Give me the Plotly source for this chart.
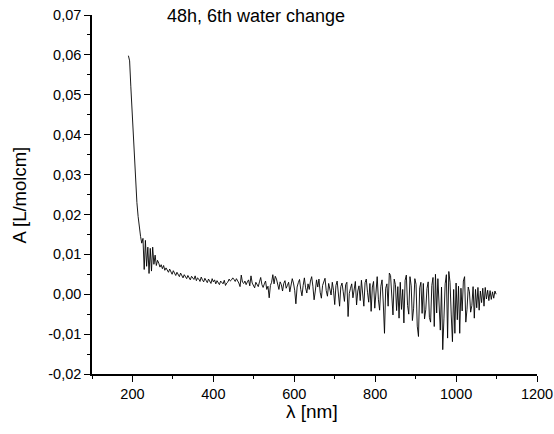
import plotly.graph_objects as go

# wavelength grid (nm), 3 nm sampling from 190 to 1099
wavelength = list(range(190, 1100, 3))

# absorbance A [L/molcm]
absorbance = [
    # 190-223 steep decay
    0.0598, 0.0585, 0.0520, 0.0455, 0.0400, 0.0335, 0.0275, 0.0230, 0.0195, 0.0165, 0.0145, 0.0128,
    # 226-262 noisy shoulder
    0.0140, 0.0062, 0.0135, 0.0070, 0.0118, 0.0052, 0.0115, 0.0058, 0.0118, 0.0075, 0.0098, 0.0072, 0.0085,
    # 265-418 slow decay
    0.0078, 0.0068, 0.0074, 0.0064, 0.0072, 0.0060, 0.0066, 0.0061, 0.0055, 0.0063,
    0.0058, 0.0050, 0.0059, 0.0053, 0.0047, 0.0055, 0.0049, 0.0044, 0.0053, 0.0046,
    0.0041, 0.0049, 0.0044, 0.0039, 0.0047, 0.0043, 0.0036, 0.0045, 0.0040, 0.0037,
    0.0046, 0.0034, 0.0041, 0.0038, 0.0032, 0.0043, 0.0036, 0.0031, 0.0040, 0.0035,
    0.0029, 0.0038, 0.0033, 0.0027, 0.0039, 0.0031, 0.0036, 0.0026, 0.0034, 0.0030,
    0.0024, 0.0033,
    # 421-1099 noisy tail
    0.0030, 0.0026, 0.0035, 0.0022, 0.0028, 0.0031, 0.0038, 0.0033, 0.0036, 0.0041,
    0.0037, 0.0032, 0.0039, 0.0035, 0.0028, 0.0019, 0.0048, 0.0030, 0.0027, 0.0033,
    0.0024, 0.0031, 0.0036, 0.0021, 0.0046, 0.0028, 0.0022, 0.0016, 0.0030, 0.0025,
    0.0019, 0.0031, 0.0042, 0.0024, 0.0017, 0.0026, 0.0033, 0.0012, 0.0020, -0.0009,
    0.0022, 0.0030, 0.0049, 0.0026, 0.0045, 0.0038, 0.0021, 0.0012, 0.0031, 0.0024,
    0.0008, 0.0027, 0.0034, 0.0015, 0.0022, 0.0030, 0.0006, 0.0019, 0.0039, 0.0028,
    0.0010, -0.0024, 0.0018, 0.0029, 0.0037, 0.0012, -0.0004, 0.0022, 0.0041, 0.0016,
    0.0003, 0.0026, 0.0012, 0.0033, 0.0044, 0.0020, -0.0014, 0.0008, 0.0036, 0.0018,
    0.0038, 0.0005, -0.0010, 0.0022, 0.0031, 0.0040, 0.0009, -0.0005, 0.0027, 0.0014,
    -0.0002, 0.0030, 0.0010, -0.0026, 0.0022, 0.0033, 0.0004, -0.0030, 0.0019, 0.0028,
    0.0006, -0.0018, 0.0024, 0.0030, -0.0056, 0.0002, 0.0015, 0.0026, -0.0009, 0.0012,
    0.0032, -0.0027, 0.0008, 0.0021, -0.0016, 0.0035, 0.0010, -0.0030, 0.0029, 0.0038,
    0.0005, -0.0020, 0.0027, -0.0043, 0.0018, 0.0032, -0.0035, 0.0006, 0.0044, -0.0014,
    -0.0040, 0.0020, 0.0036, -0.0022, -0.0098, 0.0015, 0.0026, -0.0030, 0.0053, 0.0047,
    -0.0018, -0.0052, 0.0038, 0.0024, -0.0041, 0.0019, -0.0060, 0.0030, -0.0038, 0.0012,
    -0.0072, 0.0035, 0.0048, -0.0028, -0.0050, 0.0044, 0.0021, -0.0066, -0.0035, 0.0039,
    0.0025, -0.0080, -0.0106, 0.0016, 0.0030, -0.0048, 0.0027, -0.0062, -0.0039, 0.0014,
    0.0031, -0.0058, -0.0070, 0.0022, 0.0042, -0.0081, 0.0050, -0.0047, 0.0039, -0.0036,
    -0.0090, 0.0018, -0.0139, -0.0060, 0.0026, 0.0049, -0.0110, 0.0057, 0.0030, -0.0052,
    -0.0119, 0.0012, -0.0098, 0.0028, -0.0064, 0.0020, -0.0098, 0.0015, -0.0042, 0.0033,
    0.0044, -0.0070, -0.0038, 0.0018, 0.0006, -0.0045, -0.0028, 0.0019, -0.0060, 0.0012,
    -0.0034, 0.0017, -0.0040, 0.0008, -0.0021, 0.0015, -0.0030, 0.0017, -0.0012, 0.0010,
    -0.0016, 0.0009, -0.0013, 0.0006, -0.0010, 0.0008, 0.0000,
]

x_tick_vals = [200, 400, 600, 800, 1000, 1200]
x_tick_labels = ["200", "400", "600", "800", "1000", "1200"]
y_tick_vals = [-0.02, -0.01, 0.0, 0.01, 0.02, 0.03, 0.04, 0.05, 0.06, 0.07]
y_tick_labels = ["-0,02", "-0,01", "0,00", "0,01", "0,02", "0,03", "0,04", "0,05", "0,06", "0,07"]

title_text = "48h, 6th water change"
x_title = "λ [nm]"
y_title = "A [L/molcm]"

FONT = "Liberation Sans, Arial, sans-serif"

fig = go.Figure()
fig.add_trace(go.Scatter(
    x=wavelength, y=absorbance, mode="lines",
    line=dict(color="black", width=0.9),
    showlegend=False, hoverinfo="skip",
))

axis_common = dict(
    showgrid=False, zeroline=False, showline=True, linecolor="black", linewidth=1.5,
    ticks="outside", ticklen=6, tickwidth=1.2, tickcolor="black",
    tickfont=dict(family=FONT, size=14.5, color="black"),
    mirror=False, automargin=False,
)

fig.update_layout(
    width=554, height=434,
    margin=dict(l=92, r=17, t=15, b=60, autoexpand=False),
    paper_bgcolor="white", plot_bgcolor="white",
    font=dict(family=FONT, color="black"),
    xaxis=dict(range=[100, 1200], tickmode="array", tickvals=x_tick_vals, ticktext=x_tick_labels,
               minor=dict(ticks="outside", ticklen=3, tickwidth=1.2, tickcolor="black", dtick=100, tick0=0),
               **axis_common),
    yaxis=dict(range=[-0.02, 0.07], tickmode="array", tickvals=y_tick_vals, ticktext=y_tick_labels,
               minor=dict(ticks="outside", ticklen=3, tickwidth=1.2, tickcolor="black", dtick=0.005, tick0=0),
               **axis_common),
    annotations=[
        dict(text=title_text, xref="paper", yref="paper", x=0.164, y=0.997,
             xanchor="left", yanchor="middle", showarrow=False,
             font=dict(family=FONT, size=18, color="black")),
        dict(text=x_title, xref="paper", yref="paper", x=0.4936, y=-0.104,
             xanchor="center", yanchor="middle", showarrow=False,
             font=dict(family=FONT, size=19, color="black")),
        dict(text=y_title, xref="paper", yref="paper", x=-0.162, y=0.5, textangle=-90,
             xanchor="center", yanchor="middle", showarrow=False,
             font=dict(family=FONT, size=18.5, color="black")),
    ],
)

fig.write_html("out.html")
